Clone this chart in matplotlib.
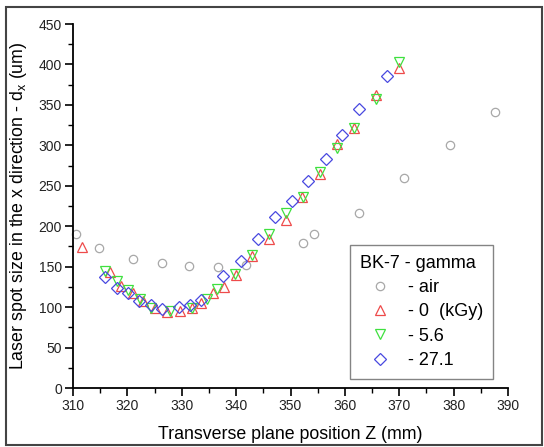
import matplotlib.pyplot as plt
from matplotlib.patches import Rectangle
from matplotlib.ticker import MultipleLocator

plt.rcParams["font.family"] = ["Liberation Sans", "DejaVu Sans"]

# ── data ─────────────────────────────────────
air_z = [310.5, 314.8, 321.1, 326.3, 331.4, 336.7, 341.9, 352.3, 354.3, 362.6, 370.9, 379.3, 387.7]
air_d = [190, 173, 159, 154, 151, 149, 152, 179, 190, 216, 259, 301, 341]

k0_z = [311.6, 316.8, 318.8, 321.1, 322.9, 325.1, 327.3, 329.7, 331.8, 333.6, 335.7, 337.8,
        339.9, 343.0, 346.0, 349.1, 352.2, 355.5, 358.6, 361.7, 365.8, 370.0]
k0_d = [174, 144, 126, 117, 107, 98.5, 93.5, 95, 98.5, 105, 117, 125,
        140, 163, 184, 208, 236, 265, 302, 321, 362, 395]

k56_z = [315.9, 318.0, 320.2, 322.3, 324.4, 327.8, 331.8, 334.6, 336.4, 339.8, 343.0, 346.1,
         349.2, 352.3, 355.5, 358.5, 361.7, 365.8, 370.0]
k56_d = [145, 132, 121, 110, 98.5, 95, 99, 110, 122, 141, 164, 191,
         216, 236, 267, 297, 322, 357, 403]

k271_z = [315.9, 318.0, 320.2, 322.2, 324.3, 326.4, 329.5, 331.5, 333.6, 337.6, 340.9, 344.1,
          347.1, 350.2, 353.3, 356.5, 359.5, 362.6, 367.8]
k271_d = [137, 124, 118, 107, 103, 98, 100.5, 102, 109, 139, 157, 184,
          211, 231, 256, 283, 313, 345, 386]

fig = plt.figure(figsize=(5.44, 4.47), dpi=100)
ax = fig.add_axes([73 / 544, 1 - 388 / 447, 435 / 544, 364 / 447])

kw = dict(linestyle="none", markerfacecolor="none", markeredgewidth=0.9, clip_on=False)
ax.plot(air_z, air_d, marker="o", markersize=6, color="#a8a8a8", label="- air", **kw)
ax.plot(k0_z, k0_d, marker="^", markersize=7, color="#ee4b4b", label="- 0  (kGy)", **kw)
ax.plot(k56_z, k56_d, marker="v", markersize=7, color="#3fe03f", label="- 5.6", **kw)
ax.plot(k271_z, k271_d, marker="D", markersize=6, color="#4848e0", label="- 27.1", **kw)

ax.set_xlim(310, 390)
ax.set_ylim(0, 450)
ax.xaxis.set_major_locator(MultipleLocator(10))
ax.xaxis.set_minor_locator(MultipleLocator(5))
ax.yaxis.set_major_locator(MultipleLocator(50))
ax.yaxis.set_minor_locator(MultipleLocator(25))
ax.tick_params(which="major", direction="out", length=6, width=1.2, labelsize=10,
               pad=2, labelcolor="#222222")
ax.tick_params(which="minor", direction="out", length=3.5, width=1.0)

for side in ("top", "right"):
    ax.spines[side].set_visible(False)
for side in ("left", "bottom"):
    ax.spines[side].set_linewidth(1.3)

ax.set_xlabel("Transverse plane position Z (mm)", fontsize=12.8, labelpad=9)
ax.set_ylabel(r"Laser spot size in the x direction - d$_\mathregular{x}$ (um)",
              fontsize=12.8, labelpad=7)

leg = ax.legend(title="BK-7 - gamma", loc="upper left",
                bbox_to_anchor=((350 - 73) / 435, (388 - 245) / 364),
                borderaxespad=0, fontsize=13, title_fontsize=13, frameon=True,
                fancybox=False, edgecolor="#666666", handlelength=2.2,
                handletextpad=0.45, borderpad=0.55, labelspacing=0.4,
                alignment="left")
leg.get_frame().set_linewidth(1.0)

# outer frame around the whole picture
fig.patches.append(Rectangle((6 / 544, 2 / 447), 1 - 8 / 544, 1 - 9 / 447,
                             transform=fig.transFigure, fill=False,
                             edgecolor="#444444", linewidth=1.5))

fig.savefig("out.png", dpi=100)
